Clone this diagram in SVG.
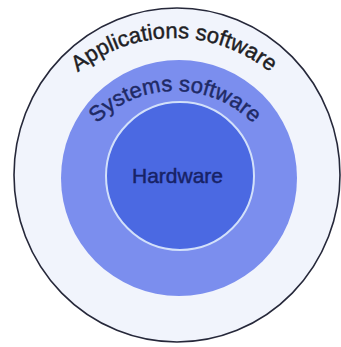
<svg xmlns="http://www.w3.org/2000/svg" width="341" height="347" viewBox="0 0 341 347">
  <style>
    .lbl { font-family: "Liberation Sans", Arial, sans-serif; stroke-width: 0.45; }
  </style>
  <defs>
    <path id="arcApp" d="M 22,190 A 152 152 0 0 1 326,190"/>
    <path id="arcSys" d="M 65,201 A 110 110 0 0 1 285,201"/>
  </defs>
  <rect width="341" height="347" fill="#ffffff"/>
  <g id="applications">
    <ellipse cx="177" cy="175" rx="163" ry="167" fill="#f1f4fc" stroke="#26283a" stroke-width="1.6"/>
    <text class="lbl" font-size="22" fill="#1e1e24" stroke="#1e1e24" text-anchor="middle">
      <textPath href="#arcApp" startOffset="50%">Applications software</textPath>
    </text>
  </g>
  <g id="systems">
    <circle cx="179" cy="178" r="118" fill="#7b8eee"/>
    <text class="lbl" font-size="22" fill="#1f2a66" stroke="#1f2a66" text-anchor="middle">
      <textPath href="#arcSys" startOffset="50%">Systems software</textPath>
    </text>
  </g>
  <g id="hardware">
    <circle cx="180" cy="176" r="74" fill="#4b69e2" stroke="#d2e0fa" stroke-width="2"/>
    <text class="lbl" x="177.5" y="183" font-size="21" fill="#172266" stroke="#172266" text-anchor="middle">Hardware</text>
  </g>
</svg>
